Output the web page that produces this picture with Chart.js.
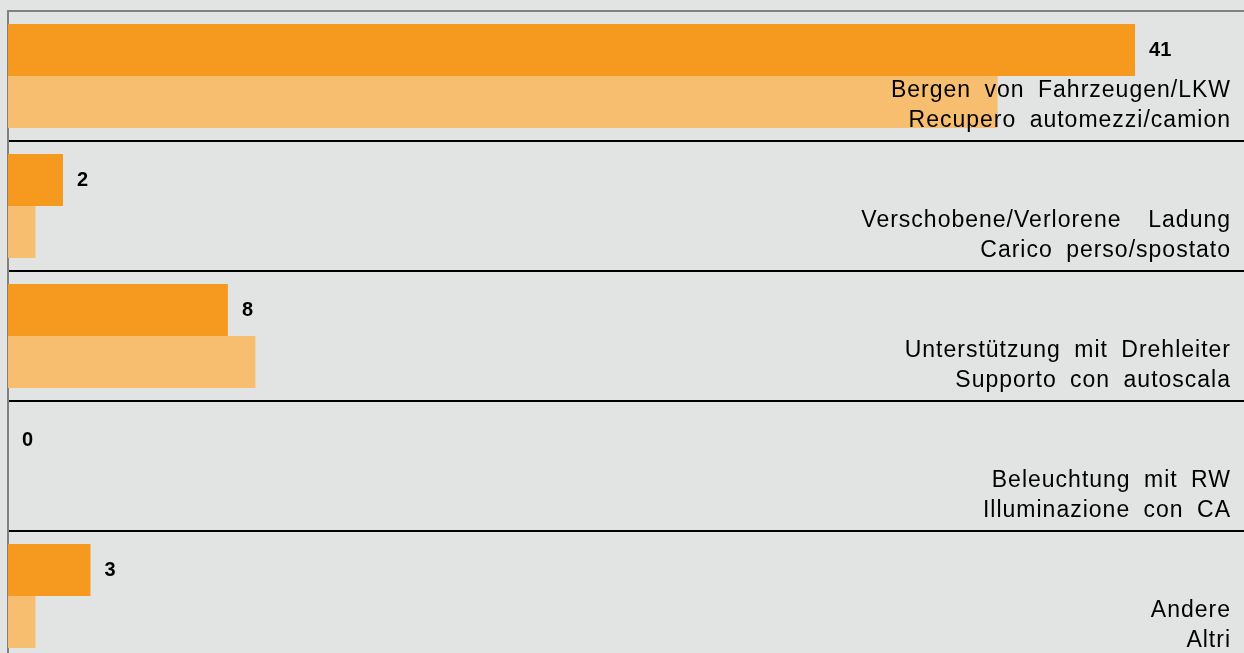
<!DOCTYPE html>
<html>
<head>
<meta charset="utf-8">
<script src="https://cdn.jsdelivr.net/npm/chart.js@4"></script>
<style>
  html, body { margin: 0; padding: 0; background: #e2e3e3; overflow: hidden; }
  #wrap { width: 1245px; height: 661px; }
</style>
</head>
<body>
<div id="wrap"><canvas id="myChart" width="1245" height="661"></canvas></div>
<script>
// categories (german / italian)
const categories = [
  ["Bergen von Fahrzeugen/LKW", "Recupero automezzi/camion"],
  ["Verschobene/Verlorene  Ladung", "Carico perso/spostato"],
  ["Unterstützung mit Drehleiter", "Supporto con autoscala"],
  ["Beleuchtung mit RW", "Illuminazione con CA"],
  ["Andere", "Altri"]
];
const currentYear = [41, 2, 8, 0, 3];
const previousYear = [36, 1, 9, 0, 1];

const darkOrange = "#f59a1f";
const lightOrange = "#f7be6f";

// value labels on the dark bars + two-line category labels on the right
const labelPlugin = {
  id: "labelPlugin",
  afterDatasetsDraw(chart) {
    const ctx = chart.ctx;
    const yScale = chart.scales.y;
    const area = chart.chartArea;
    ctx.save();
    ctx.fillStyle = "#000";
    ctx.font = "bold 20px Arial, 'Liberation Sans', sans-serif";
    ctx.textAlign = "left";
    ctx.textBaseline = "middle";
    chart.getDatasetMeta(0).data.forEach(function (bar, i) {
      ctx.fillText(String(currentYear[i]), bar.x + 14, bar.y);
    });
    ctx.font = "23px Arial, 'Liberation Sans', sans-serif";
    ctx.letterSpacing = "1px";
    ctx.wordSpacing = "6px";
    ctx.textAlign = "right";
    const band = (area.bottom - area.top) / categories.length;
    categories.forEach(function (lines, i) {
      const top = yScale.getPixelForValue(i) - band / 2;
      ctx.fillText(lines[0], 1231, top + 80);
      ctx.fillText(lines[1], 1231, top + 110);
    });
    ctx.restore();
  }
};

const ctx = document.getElementById("myChart").getContext("2d");
const myChart = new Chart(ctx, {
  type: "bar",
  data: {
    labels: categories,
    datasets: [
      {
        label: "current",
        data: currentYear,
        backgroundColor: darkOrange,
        borderWidth: 0,
        categoryPercentage: 0.8,
        barPercentage: 1.0
      },
      {
        label: "previous",
        data: previousYear,
        backgroundColor: lightOrange,
        borderWidth: 0,
        categoryPercentage: 0.8,
        barPercentage: 1.0
      }
    ]
  },
  options: {
    indexAxis: "y",
    responsive: false,
    animation: false,
    layout: { padding: { left: 8, top: 11, right: 0, bottom: 0 } },
    plugins: {
      legend: { display: false },
      tooltip: { enabled: false }
    },
    scales: {
      x: {
        display: false,
        min: 0,
        max: 45
      },
      y: {
        ticks: { display: false },
        grid: {
          offset: true,
          drawTicks: false,
          lineWidth: 2,
          color: function (c) {
            return c.index === 0 ? "#808080" : "#000";
          }
        },
        border: { color: "#808080", width: 2 }
      }
    }
  },
  plugins: [labelPlugin]
});
</script>
</body>
</html>
